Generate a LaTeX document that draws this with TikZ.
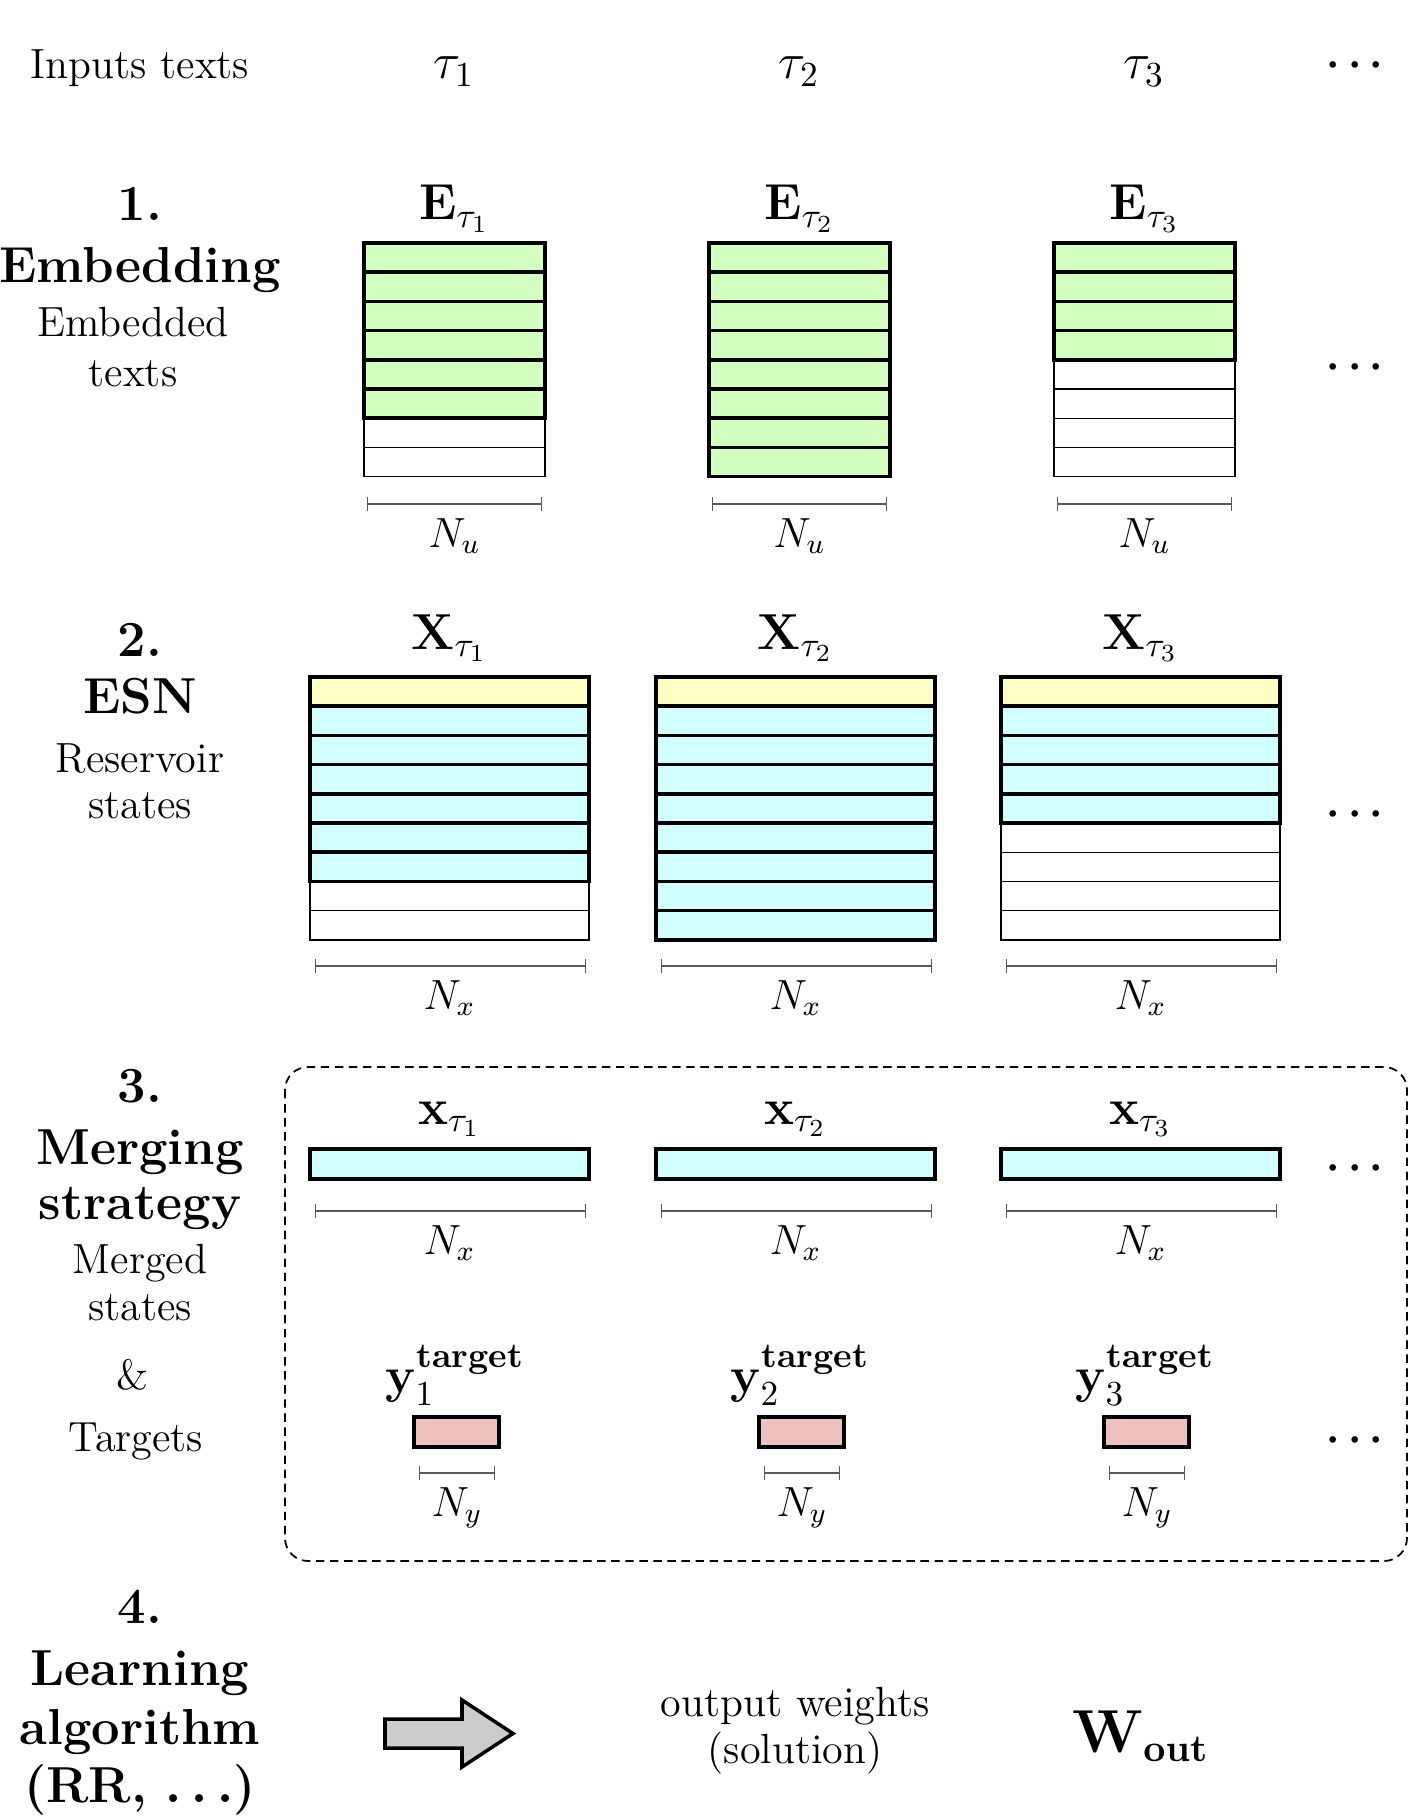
\documentclass[tikz,border=0pt]{standalone}
\usepackage{amsmath,amssymb}
\usepackage{xcolor}
\usepackage{tikz}
\usetikzlibrary{positioning,arrows.meta}
\definecolor{embg}{HTML}{D3FFC1}
\definecolor{resc}{HTML}{D2FFFF}
\definecolor{biasy}{HTML}{FFFFC6}
\definecolor{tgtp}{HTML}{EEC0C0}
\definecolor{dimg}{HTML}{5A5A5A}
\newcommand{\rowh}{0.292}

\begin{document}
\begin{tikzpicture}[font=\large,>=Latex]
\tikzstyle{hd}=[font=\Large\bfseries\boldmath,anchor=base,inner sep=0pt]
\tikzstyle{tx}=[anchor=base,inner sep=0pt]
\tikzstyle{mlbl}=[anchor=base,inner sep=0pt,font=\Large]
\tikzstyle{dts}=[anchor=base,inner sep=0pt,font=\large\boldmath]
\tikzstyle{rowfill}=[draw,line width=1pt]
\tikzstyle{rowblank}=[draw,line width=0.4pt,fill=white]
\tikzstyle{dim}=[dimg,line width=0.4pt,{Bar[width=4pt]}-{Bar[width=4pt]}]
\useasboundingbox (0,0) rectangle (14.10,-18.16);

% inputs
\node[tx] (inp) at (1.40,-0.79) {Inputs texts};
\foreach \c/\x in {1/4.54,2/7.99,3/11.44}
  \node[mlbl] (tau\c) at (\x,-0.79) {$\tau_{\c}$};
\node[dts] (dots0) at (13.59,-0.76) {$\cdots$};

% 1. embedding
\node[hd] (h1a) at (1.40,-2.21) {1.};
\node[hd] (h1b) at (1.40,-2.83) {Embedding};
\node[tx] (h1c) at (1.33,-3.37) {Embedded};
\node[tx] (h1d) at (1.33,-3.86) {texts};
\foreach \c/\x/\n in {1/3.64/6,2/7.09/8,3/10.54/4} {
  \foreach \i in {1,...,8}
    \draw[rowblank] (\x,{-2.43-(\i-1)*\rowh}) rectangle ++(1.81,-\rowh);
  \foreach \i in {1,...,\n}
    \draw[rowfill,fill=embg] (\x,{-2.43-(\i-1)*\rowh}) rectangle ++(1.81,-\rowh);
  \node[mlbl] (E\c) at (\x+0.905,-2.20) {$\mathbf{E}_{\tau_{\c}}$};
  \draw[dim] (\x+0.03,-5.04) -- (\x+1.78,-5.04);
  \node[tx] (Nu\c) at (\x+0.905,-5.47) {$N_u$};
}
\node[dts] (dots1) at (13.59,-3.78) {$\cdots$};

% 2. ESN
\node[hd] (h2a) at (1.40,-6.56) {2.};
\node[hd] (h2b) at (1.40,-7.13) {ESN};
\node[tx] (h2c) at (1.40,-7.72) {Reservoir};
\node[tx] (h2d) at (1.40,-8.18) {states};
\foreach \c/\x/\n in {1/3.10/7,2/6.56/9,3/10.01/5} {
  \foreach \i in {1,...,9}
    \draw[rowblank] (\x,{-6.77-(\i-1)*\rowh}) rectangle ++(2.79,-\rowh);
  \foreach \i in {1,...,\n}
    \draw[rowfill,fill=resc] (\x,{-6.77-(\i-1)*\rowh}) rectangle ++(2.79,-\rowh);
  \draw[rowfill,fill=biasy] (\x,-6.77) rectangle ++(2.79,-\rowh);
  \node[mlbl] (X\c) at (\x+1.395,-6.49) {$\mathbf{X}_{\tau_{\c}}$};
  \draw[dim] (\x+0.05,-9.66) -- (\x+2.76,-9.66);
  \node[tx] (Nx\c) at (\x+1.395,-10.09) {$N_x$};
}
\node[dts] (dots2) at (13.59,-8.24) {$\cdots$};

% 3. merging + targets
\draw[dashed,dash pattern=on 2.4pt off 1.6pt,line width=0.5pt,rounded corners=0.23cm]
  (2.85,-10.67) rectangle (14.07,-15.61);
\node[hd] (h3a) at (1.40,-11.02) {3.};
\node[hd] (h3b) at (1.40,-11.64) {Merging};
\node[hd] (h3c) at (1.40,-12.19) {strategy};
\node[tx] (h3d) at (1.40,-12.73) {Merged};
\node[tx] (h3e) at (1.40,-13.20) {states};
\node[tx] (h3f) at (1.33,-13.89) {\&};
\node[tx] (h3g) at (1.36,-14.51) {Targets};
\foreach \c/\x in {1/3.10,2/6.56,3/10.01} {
  \node[mlbl] (xm\c) at (\x+1.395,-11.24) {$\mathbf{x}_{\tau_{\c}}$};
  \draw[rowfill,fill=resc] (\x,-11.49) rectangle ++(2.79,-0.30);
  \draw[dim] (\x+0.05,-12.11) -- (\x+2.76,-12.11);
  \node[tx] (Nxm\c) at (\x+1.395,-12.54) {$N_x$};
}
\foreach \c/\x in {1/3.64,2/7.09,3/10.54} {
  \node[mlbl] (y\c) at (\x+0.91,-13.92) {$\mathbf{y}_{\c}^{\textbf{target}}$};
  \draw[rowfill,fill=tgtp] (\x+0.50,-14.17) rectangle ++(0.85,-0.30);
  \draw[dim] (\x+0.55,-14.73) -- (\x+1.31,-14.73);
  \node[tx] (Ny\c) at (\x+0.93,-15.16) {$N_y$};
}
\node[dts] (dots3) at (13.59,-11.78) {$\cdots$};
\node[dts] (dots4) at (13.59,-14.50) {$\cdots$};

% 4. learning
\node[hd] (h4a) at (1.40,-16.23) {4.};
\node[hd] (h4b) at (1.40,-16.85) {Learning};
\node[hd] (h4c) at (1.40,-17.44) {algorithm};
\node[hd] (h4d) at (1.40,-18.02) {(RR, $\ldots$)};
\draw[line width=1pt,fill=black!20]
  (3.85,-17.19) -- (4.62,-17.19) -- (4.62,-17.00) -- (5.13,-17.335)
  -- (4.62,-17.67) -- (4.62,-17.48) -- (3.85,-17.48) -- cycle;
\node[tx] (ow1) at (7.95,-17.16) {output weights};
\node[tx] (ow2) at (7.95,-17.63) {(solution)};
\node[tx,font=\fontsize{16}{19}\selectfont] (wout) at (11.41,-17.52) {$\mathbf{W}_{\mathbf{out}}$};
\end{tikzpicture}
\end{document}
